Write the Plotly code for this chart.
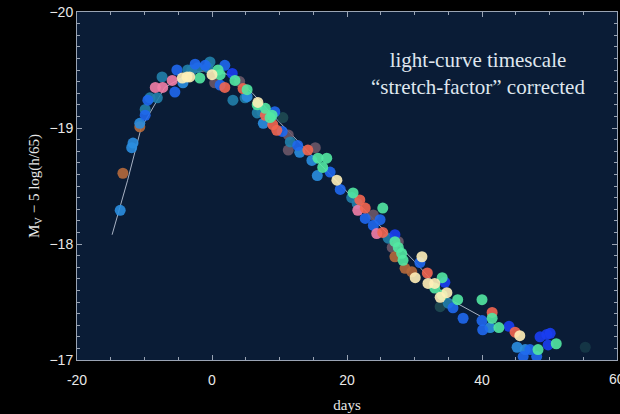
import plotly.graph_objects as go

# ---- data (days, M_V - 5 log(h/65)) grouped by marker colour ----
blue_x = [-9.9, -9.5, -5.5, -5.2, -1.0, 1.2, -2.5, 1.9, 9.3, 10.4, 12.7, 17.5, 19.0, 22.7, 24.9, 23.9, 30.8, 35.7, 37.2, 40.0, 40.1, 47.1, 46.1, 48.1]
blue_y = [-19.11, -19.24, -19.31, -19.50, -19.54, -19.37, -19.55, -19.54, -19.14, -18.97, -18.85, -18.62, -18.47, -18.22, -18.21, -18.16, -17.84, -17.45, -17.36, -17.34, -17.26, -17.09, -17.03, -17.03]

lblue_x = [-13.6, -11.9, -11.7, -10.7, -4.3, 5.2, 7.6, 13.0, 14.8, 15.6, 41.2, 45.2, 46.4]
lblue_y = [-18.29, -18.83, -18.87, -19.04, -19.39, -19.27, -19.04, -18.79, -18.72, -18.59, -17.28, -17.11, -17.09]

teal_x = [-9.9, -9.2, -8.1, -7.4, -3.6, -3.0, -2.1, -0.6, -0.3, 3.1, 4.9, 7.4, 6.7, 11.6, 20.7, 21.5, 26.1, 35.0]
teal_y = [-19.16, -19.26, -19.26, -19.44, -19.50, -19.50, -19.52, -19.52, -19.57, -19.24, -19.26, -19.14, -19.13, -18.88, -18.40, -18.35, -18.05, -17.49]

royal_x = [3.0, 27.1, 34.5, 44.0, 48.6, 49.6, 50.1, 49.8]
royal_y = [-19.47, -18.08, -17.67, -17.29, -17.20, -17.22, -17.23, -17.13]

pink_x = [-8.4, -7.3, -5.9, 21.6, 24.4]
pink_y = [-19.35, -19.35, -19.41, -18.29, -18.09]

salmon_x = [1.9, 4.6, 7.9, 9.0, 9.6, 14.2, 21.9, 22.7, 25.3, 31.9, 41.5, 44.9]
salmon_y = [-19.35, -19.34, -19.11, -19.03, -18.98, -18.81, -18.38, -18.31, -18.10, -17.75, -17.41, -17.24]

brown_x = [-13.2, -10.7, 27.1, 28.6, 29.6]
brown_y = [-18.61, -19.01, -17.89, -17.79, -17.76]

mint_x = [-1.8, 0.9, 1.2, 3.4, 5.2, 6.7, 7.9, 8.9, 8.6, 15.7, 17.0, 16.4, 20.9, 25.3, 27.1, 27.6, 28.1, 28.3, 34.1, 33.0, 34.1, 36.4, 40.0, 41.5, 42.5, 48.3, 51.0]
mint_y = [-19.43, -19.50, -19.46, -19.41, -19.33, -19.20, -19.17, -19.11, -19.09, -18.74, -18.74, -18.66, -18.44, -18.31, -18.02, -17.97, -17.92, -17.86, -17.71, -17.62, -17.56, -17.52, -17.52, -17.36, -17.28, -17.09, -17.14]

yellow_x = [-4.4, -3.7, -3.3, 0.0, 6.8, 18.5, 31.1, 30.1, 32.0, 33.0, 33.8, 34.8, 45.6]
yellow_y = [-19.43, -19.44, -19.44, -19.46, -19.22, -18.55, -17.89, -17.71, -17.66, -17.66, -17.54, -17.58, -17.21]

gray_x = [0.4, 4.1, 11.3, 11.3, 15.3, 23.9, 26.7, 27.6]
gray_y = [-19.39, -19.40, -18.94, -18.81, -18.83, -18.25, -17.97, -18.02]

dteal_x = [10.5, 33.8]
dteal_y = [-19.09, -17.46]

faint_x = [55.3]
faint_y = [-17.11]

# template light curve
tmpl_x = [-14.8, -12.5, -10.5, -7, -3, 0, 3, 6, 10, 15, 20, 25, 30, 35, 39.7]
tmpl_y = [-18.08, -18.55, -19.0, -19.35, -19.48, -19.5, -19.45, -19.3, -19.05, -18.75, -18.45, -18.15, -17.85, -17.53, -17.38]

x_ticks = [-20, 0, 20, 40]
y_ticks = [-20, -19, -18, -17]

groups = [
    (faint_x, faint_y, "#1e4a52", 0.55),
    (dteal_x, dteal_y, "#1e4a52", 0.9),
    (gray_x, gray_y, "#6c5868", 0.9),
    (brown_x, brown_y, "#b66a3c", 0.9),
    (teal_x, teal_y, "#2180aa", 0.9),
    (lblue_x, lblue_y, "#2a8ee0", 0.9),
    (blue_x, blue_y, "#1f68ee", 0.9),
    (royal_x, royal_y, "#1a3ef2", 0.9),
    (pink_x, pink_y, "#f27ea6", 0.9),
    (salmon_x, salmon_y, "#f26650", 0.9),
    (mint_x, mint_y, "#52e8a2", 0.9),
    (yellow_x, yellow_y, "#fff0b8", 0.9),
]

fig = go.Figure()
fig.add_trace(go.Scatter(x=tmpl_x, y=tmpl_y, mode="lines",
                         line=dict(color="#a8b2c4", width=1), hoverinfo="skip"))
for gx, gy, col, op in groups:
    fig.add_trace(go.Scatter(x=gx, y=gy, mode="markers",
                             marker=dict(size=11, color=col, opacity=op,
                                         line=dict(width=0))))

tickfont = dict(family="Liberation Sans, Arial, sans-serif", size=14, color="#e8e8e8")
serif = "Liberation Serif, Times New Roman, serif"
axis_common = dict(
    showgrid=False, zeroline=False, showline=True, linecolor="#9aa4b4", linewidth=1,
    mirror="allticks", ticks="inside", ticklen=5, tickcolor="#9aa4b4",
    tickfont=tickfont,
)

fig.update_xaxes(range=[-20, 60], tickvals=x_ticks + [60], ticktext=[str(v) for v in x_ticks] + [""],
                 ticklabelstandoff=7,
                 minor=dict(dtick=5, tick0=0, ticks="inside", ticklen=3, tickcolor="#9aa4b4"),
                 title=dict(text="days", standoff=12,
                            font=dict(family=serif, size=15, color="#e8e8e8")),
                 **axis_common)
fig.update_yaxes(range=[-17, -20], tickvals=y_ticks,
                 minor=dict(dtick=0.1, tick0=-20, ticks="inside", ticklen=3, tickcolor="#9aa4b4"),
                 title=dict(text="M<sub>V</sub> − 5 log(h/65)", standoff=6,
                            font=dict(family=serif, size=15, color="#e8e8e8")),
                 **axis_common)

# partially visible "60" label at the right edge, as in the original
fig.add_annotation(x=60, y=-17, xref="x", yref="y", yanchor="top", xanchor="center",
                   yshift=-9, showarrow=False, text="60", font=tickfont)

fig.add_annotation(x=0.743, y=0.822, xref="paper", yref="paper", showarrow=False,
                   xanchor="center", yanchor="middle",
                   text="light-curve timescale<br>“stretch-factor” corrected",
                   align="center",
                   font=dict(family=serif, size=21, color="#dfe6ee"))

fig.update_layout(
    width=620, height=414,
    margin=dict(l=77, r=3, t=12, b=54),
    paper_bgcolor="#000000", plot_bgcolor="#0a1c36",
    showlegend=False,
)

fig.write_html("out.html")
